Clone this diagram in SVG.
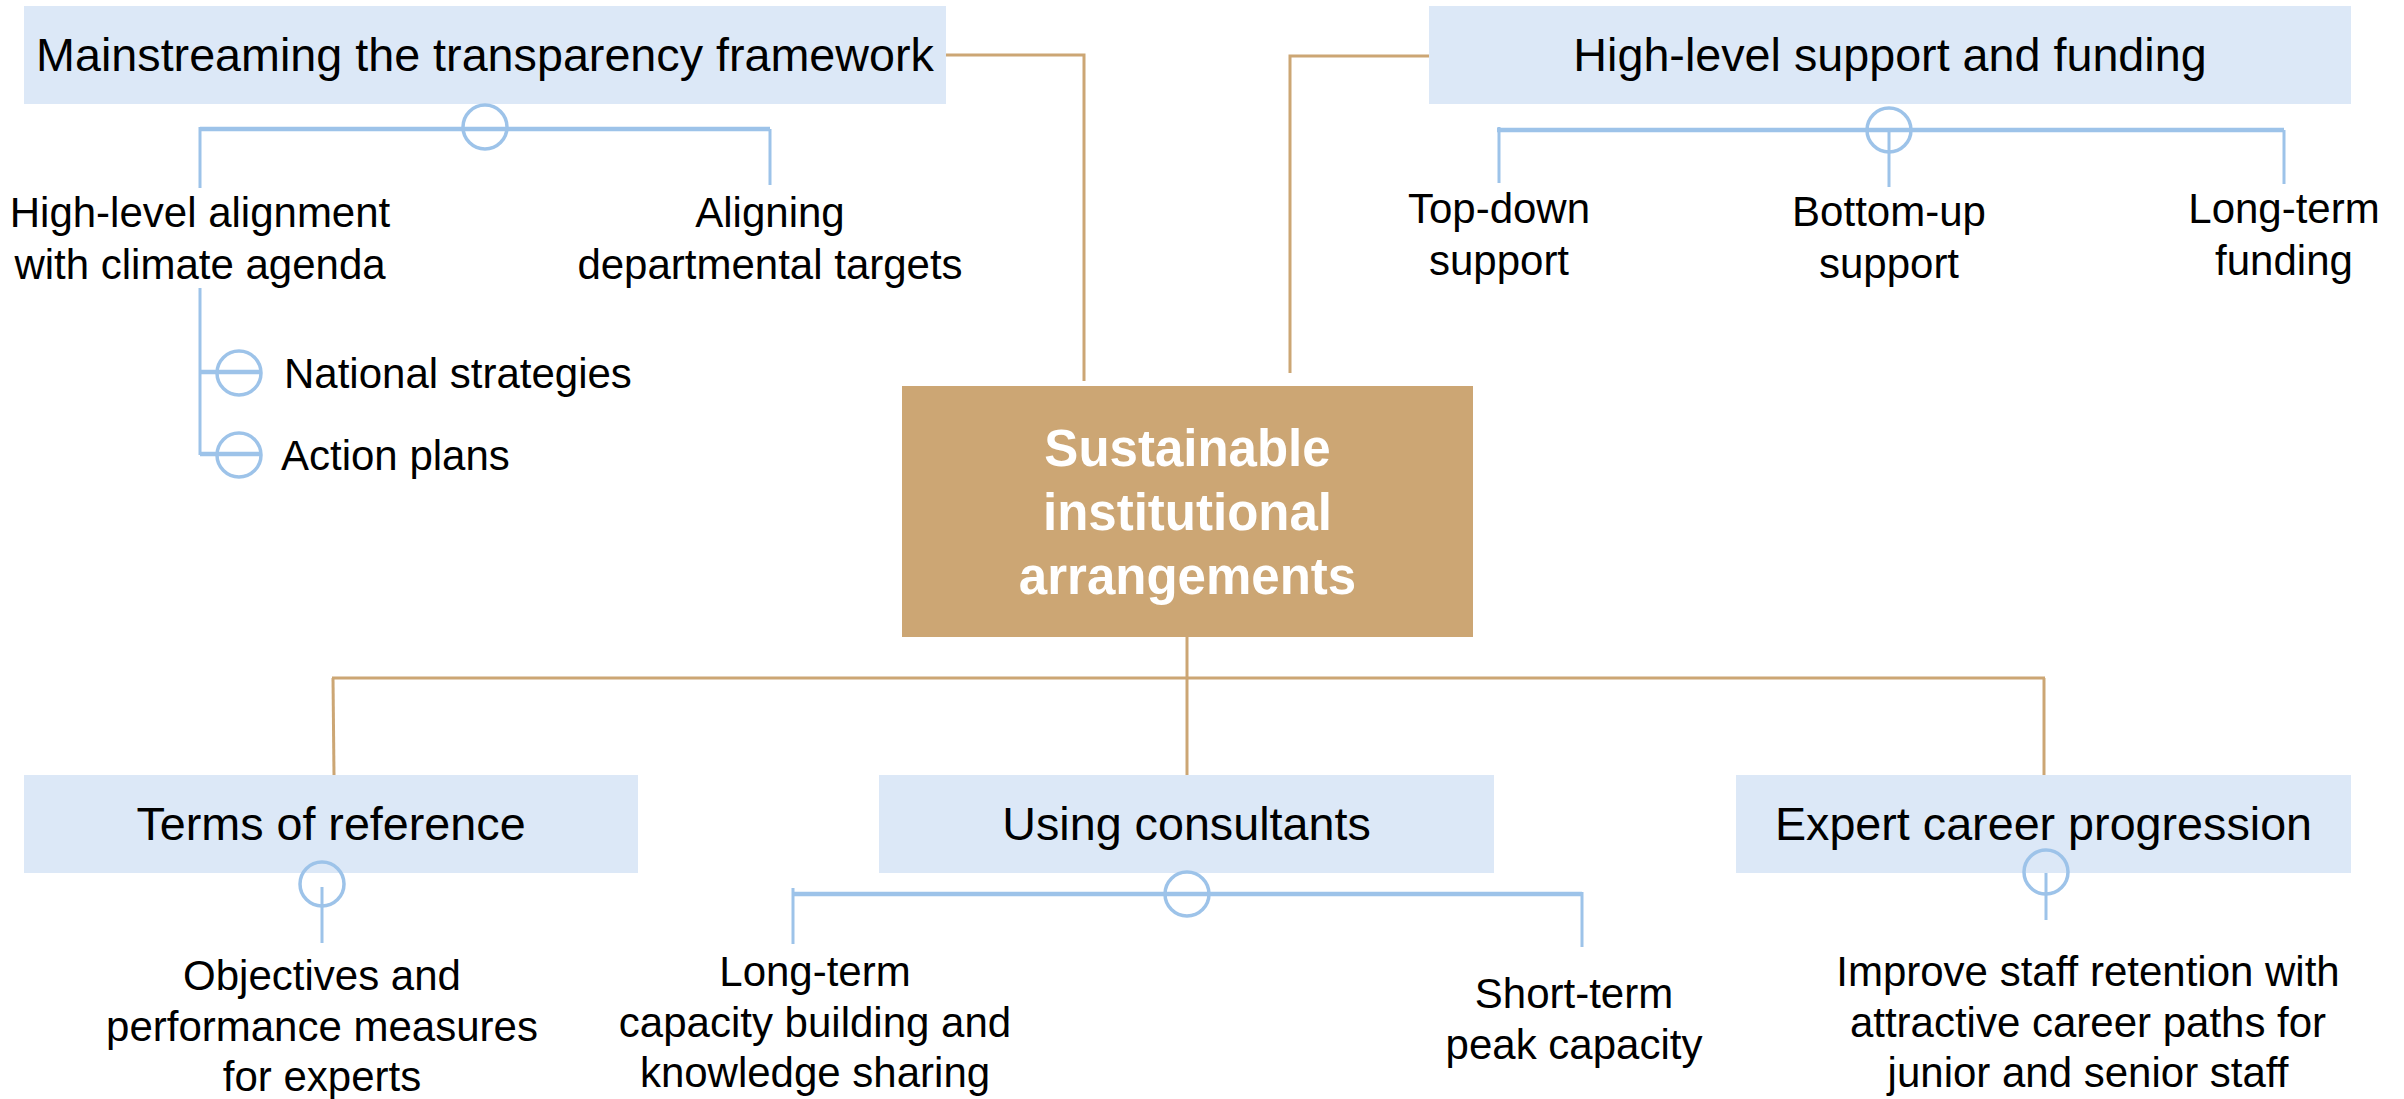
<svg xmlns="http://www.w3.org/2000/svg" width="2404" height="1099" viewBox="0 0 2404 1099">
  <style>
    .box { fill: #DCE8F7; }
    .core { fill: #CCA674; }
    .title { font-family: "Liberation Sans", Arial, sans-serif; font-size: 46.7px; fill: #000; text-anchor: middle; }
    .label { font-family: "Liberation Sans", Arial, sans-serif; font-size: 42px; fill: #000; text-anchor: middle; }
    .side { font-family: "Liberation Sans", Arial, sans-serif; font-size: 42px; fill: #000; text-anchor: start; }
    .core-text { font-family: "Liberation Sans", Arial, sans-serif; font-size: 51px; font-weight: bold; fill: #fff; text-anchor: middle; }
    .tan { stroke: #CCA674; stroke-width: 3; fill: none; }
    .bar { stroke: #9DC3E9; stroke-width: 4.5; fill: none; }
    .stem { stroke: #9DC3E9; stroke-width: 3; fill: none; }
    .knob { stroke: #9DC3E9; stroke-width: 3.5; fill: none; }
  </style>

  <!-- trunk connectors from the central box to the five topics -->
  <g id="connectors">
    <polyline class="tan" points="946,55 1084,55 1084,381"/>
    <polyline class="tan" points="1290,373 1290,56 1429,56"/>
    <line class="tan" x1="1187" y1="637" x2="1187" y2="775"/>
    <line class="tan" x1="332" y1="678" x2="2045" y2="678"/>
    <line class="tan" x1="333" y1="678" x2="334" y2="775"/>
    <line class="tan" x1="2044" y1="678" x2="2044" y2="775"/>
  </g>

  <!-- central topic -->
  <g id="core">
    <rect class="core" x="902" y="386" width="571" height="251"/>
    <text class="core-text" x="1187.5" y="466">Sustainable</text>
    <text class="core-text" x="1187.5" y="530">institutional</text>
    <text class="core-text" x="1187.5" y="594">arrangements</text>
  </g>

  <!-- top left topic -->
  <g id="mainstreaming">
    <rect class="box" x="24" y="6" width="922" height="98"/>
    <text class="title" x="485" y="71">Mainstreaming the transparency framework</text>
    <line class="bar" x1="200" y1="129" x2="770" y2="129"/>
    <circle class="knob" cx="485" cy="127" r="22"/>
    <line class="stem" x1="200" y1="127" x2="200" y2="188"/>
    <line class="stem" x1="770" y1="129" x2="770" y2="185"/>
    <text class="label" x="200" y="227">High-level alignment</text>
    <text class="label" x="200" y="279">with climate agenda</text>
    <text class="label" x="770" y="227">Aligning</text>
    <text class="label" x="770" y="279">departmental targets</text>
    <line class="stem" x1="200" y1="288" x2="200" y2="455"/>
    <line class="bar" x1="200" y1="372" x2="261" y2="372"/>
    <circle class="knob" cx="239" cy="373" r="22"/>
    <line class="bar" x1="200" y1="454" x2="261" y2="454"/>
    <circle class="knob" cx="239" cy="455" r="22"/>
    <text class="side" x="284" y="388">National strategies</text>
    <text class="side" x="281" y="470">Action plans</text>
  </g>

  <!-- top right topic -->
  <g id="support">
    <rect class="box" x="1429" y="6" width="922" height="98"/>
    <text class="title" x="1890" y="71">High-level support and funding</text>
    <line class="bar" x1="1497" y1="130" x2="2284" y2="130"/>
    <circle class="knob" cx="1889" cy="130" r="22"/>
    <line class="stem" x1="1499" y1="127" x2="1499" y2="183"/>
    <line class="stem" x1="1889" y1="130" x2="1889" y2="187"/>
    <line class="stem" x1="2284" y1="130" x2="2284" y2="184"/>
    <text class="label" x="1499" y="223">Top-down</text>
    <text class="label" x="1499" y="275">support</text>
    <text class="label" x="1889" y="226">Bottom-up</text>
    <text class="label" x="1889" y="278">support</text>
    <text class="label" x="2284" y="223">Long-term</text>
    <text class="label" x="2284" y="275">funding</text>
  </g>

  <!-- bottom left topic -->
  <g id="terms">
    <rect class="box" x="24" y="775" width="614" height="98"/>
    <text class="title" x="331" y="840">Terms of reference</text>
    <circle class="knob" cx="322" cy="884" r="22"/>
    <line class="stem" x1="322" y1="887" x2="322" y2="943"/>
    <text class="label" x="322" y="990">Objectives and</text>
    <text class="label" x="322" y="1041">performance measures</text>
    <text class="label" x="322" y="1091">for experts</text>
  </g>

  <!-- bottom middle topic -->
  <g id="consultants">
    <rect class="box" x="879" y="775" width="615" height="98"/>
    <text class="title" x="1186.5" y="840">Using consultants</text>
    <line class="bar" x1="793" y1="894" x2="1582" y2="894"/>
    <circle class="knob" cx="1187" cy="894" r="22"/>
    <line class="stem" x1="793" y1="888" x2="793" y2="944"/>
    <line class="stem" x1="1582" y1="892" x2="1582" y2="947"/>
    <text class="label" x="815" y="986">Long-term</text>
    <text class="label" x="815" y="1037">capacity building and</text>
    <text class="label" x="815" y="1087">knowledge sharing</text>
    <text class="label" x="1574" y="1008">Short-term</text>
    <text class="label" x="1574" y="1059">peak capacity</text>
  </g>

  <!-- bottom right topic -->
  <g id="career">
    <rect class="box" x="1736" y="775" width="615" height="98"/>
    <text class="title" x="2043.5" y="840">Expert career progression</text>
    <circle class="knob" cx="2046" cy="872" r="22"/>
    <line class="stem" x1="2046" y1="873" x2="2046" y2="920"/>
    <text class="label" x="2088" y="986">Improve staff retention with</text>
    <text class="label" x="2088" y="1037">attractive career paths for</text>
    <text class="label" x="2088" y="1087">junior and senior staff</text>
  </g>
</svg>
